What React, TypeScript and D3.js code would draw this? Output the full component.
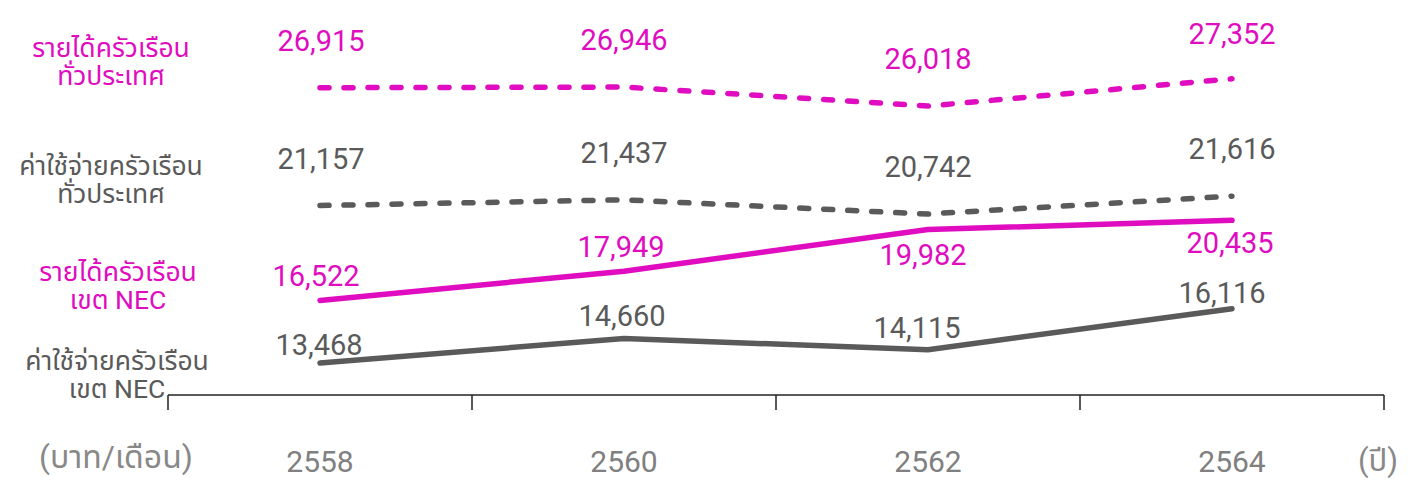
import * as d3 from 'd3';

// Data
const years = ['2558', '2560', '2562', '2564'];
const incomeAll = [26915, 26946, 26018, 27352];
const expenseAll = [21157, 21437, 20742, 21616];
const incomeNec = [16522, 17949, 19982, 20435];
const expenseNec = [13468, 14660, 14115, 16116];

const legendIncomeAll = ['รายได้ครัวเรือน', 'ทั่วประเทศ'];
const legendExpenseAll = ['ค่าใช้จ่ายครัวเรือน', 'ทั่วประเทศ'];
const legendIncomeNec = ['รายได้ครัวเรือน', 'เขต NEC'];
const legendExpenseNec = ['ค่าใช้จ่ายครัวเรือน', 'เขต NEC'];
const unitLabel = '(บาท/เดือน)';
const axisUnit = '(ปี)';

const W = 1424;
const H = 488;
const MAGENTA = '#e00cc0';
const GRAY = '#5a5a5a';
const FONT = "Roboto, 'Noto Sans', 'Noto Sans Thai', Loma, Garuda, sans-serif";

const x = d3.scaleBand<string>().domain(years).range([168, 1384]);
const y = d3.scaleLinear().domain([11900, 31200]).range([395, 0]);

// Series styling + label nudges (dx, dy from the point)
const series = [
  {
    values: incomeAll,
    color: MAGENTA,
    dashed: true,
    legend: legendIncomeAll,
    legendX: 111,
    legendY: 57,
    nudge: [[1, -37], [0, -37], [0, -37], [0, -35]],
  },
  {
    values: expenseAll,
    color: GRAY,
    dashed: true,
    legend: legendExpenseAll,
    legendX: 111,
    legendY: 175,
    nudge: [[1, -37], [0, -37], [0, -37], [0, -37]],
  },
  {
    values: incomeNec,
    color: MAGENTA,
    dashed: false,
    legend: legendIncomeNec,
    legendX: 118,
    legendY: 281,
    nudge: [[-4, -14], [-3, -14], [-5, 35], [-2, 33]],
  },
  {
    values: expenseNec,
    color: GRAY,
    dashed: false,
    legend: legendExpenseNec,
    legendX: 117,
    legendY: 370,
    nudge: [[-1, -8], [-2, -13], [-11, -12], [-10, -6]],
  },
];

const line = d3
  .line<number>()
  .x((_, i) => x(years[i])! + x.bandwidth() / 2)
  .y((v) => y(v));

export default function App() {
  const boundaries = [...years.map((yr) => x(yr)!), x.range()[1]];

  return (
    <>
      <style>{`body{margin:0;background:#fff}`}</style>
      <svg width={W} height={H} style={{ display: 'block', fontFamily: FONT }}>
        {/* axis */}
        <line x1={168} x2={1384} y1={395} y2={395} stroke="#222" strokeWidth={1.5} />
        {boundaries.map((bx, i) => (
          <line key={i} x1={bx} x2={bx} y1={395} y2={410} stroke="#222" strokeWidth={1.5} />
        ))}
        {years.map((yr) => (
          <text
            key={yr}
            x={x(yr)! + x.bandwidth() / 2}
            y={472}
            textAnchor="middle"
            fontSize={30}
            fill="#808080"
          >
            {yr}
          </text>
        ))}
        <text x={116} y={468} textAnchor="middle" fontSize={32} fill="#888">
          {unitLabel}
        </text>
        <text x={1378} y={471} textAnchor="middle" fontSize={31} fill="#888">
          {axisUnit}
        </text>

        {series.map((s, si) => (
          <g key={si}>
            <path
              d={line(s.values) ?? ''}
              fill="none"
              stroke={s.color}
              strokeWidth={s.dashed ? 5.5 : 5.5}
              strokeLinecap="round"
              strokeLinejoin="round"
              strokeDasharray={s.dashed ? '9 15' : undefined}
            />
            {s.values.map((v, i) => (
              <text
                key={i}
                x={x(years[i])! + x.bandwidth() / 2 + s.nudge[i][0]}
                y={y(v) + s.nudge[i][1]}
                textAnchor="middle"
                fontSize={29}
                fill={s.color}
              >
                {d3.format(',')(v)}
              </text>
            ))}
            {s.legend.map((t, li) => (
              <text
                key={li}
                x={s.legendX}
                y={s.legendY + li * 28}
                textAnchor="middle"
                fontSize={26.5}
                fill={s.color}
              >
                {t}
              </text>
            ))}
          </g>
        ))}
      </svg>
    </>
  );
}
